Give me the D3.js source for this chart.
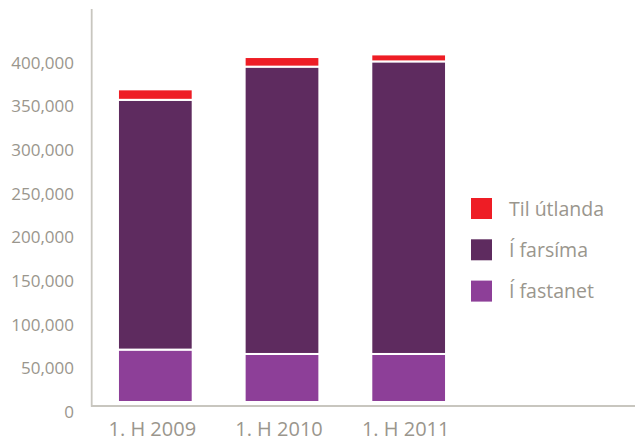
<!DOCTYPE html>
<html>
<head>
<meta charset="utf-8">
<script src="https://cdn.jsdelivr.net/npm/d3@7"></script>
<style>
  html, body { margin: 0; padding: 0; background: #fff; }
  svg { display: block; }
  text { font-family: "Open Sans", "Noto Sans", sans-serif; fill: #9a968d; }
</style>
</head>
<body>
<svg id="chart" width="635" height="443"></svg>
<script>
// Periods on the x axis
const periods = ["1. H 2009", "1. H 2010", "1. H 2011"];

// Minutes per series, bottom to top of each stack
const fastanet = [60000, 55000, 55000];     // Í fastanet
const farsima  = [286000, 329000, 335000];  // Í farsíma
const utlanda  = [12000, 11000, 8000];      // Til útlanda

const seriesNames = ["Í fastanet", "Í farsíma", "Til útlanda"];
const seriesColors = ["#8d3f98", "#5e2b5f", "#ee1d25"];

// Value axis ticks
const yTicks = [0, 50000, 100000, 150000, 200000, 250000, 300000, 350000, 400000];

const rows = periods.map((p, i) => ({
  period: p,
  "Í fastanet": fastanet[i],
  "Í farsíma": farsima[i],
  "Til útlanda": utlanda[i]
}));

const svg = d3.select("#chart");

const x = d3.scaleBand()
  .domain(periods)
  .range([92, 472])
  .paddingInner(0.41)
  .paddingOuter(0.205);

const y = d3.scaleLinear()
  .domain([0, 450000])
  .range([402, 9]);

const color = d3.scaleOrdinal().domain(seriesNames).range(seriesColors);

const stacked = d3.stack().keys(seriesNames)(rows);

// Stacked bars, separated by thin white strokes
svg.append("g")
  .selectAll("g")
  .data(stacked)
  .join("g")
    .attr("fill", d => color(d.key))
  .selectAll("rect")
  .data(d => d)
  .join("rect")
    .attr("x", d => x(d.data.period))
    .attr("width", x.bandwidth())
    .attr("y", d => y(d[1]))
    .attr("height", d => y(d[0]) - y(d[1]))
    .attr("stroke", "#fff")
    .attr("stroke-width", 2);

// Axis lines
const axisColor = "#c8c6bf";
svg.append("line")
  .attr("x1", 91.7).attr("x2", 91.7)
  .attr("y1", y.range()[1]).attr("y2", y(0) + 4.7)
  .attr("stroke", axisColor).attr("stroke-width", 1.8);
svg.append("line")
  .attr("x1", 91).attr("x2", 635)
  .attr("y1", y(0) + 4).attr("y2", y(0) + 4)
  .attr("stroke", axisColor).attr("stroke-width", 2);

// Value labels
svg.append("g")
  .selectAll("text")
  .data(yTicks)
  .join("text")
    .attr("x", 74)
    .attr("y", d => y(d) + 10)
    .attr("dy", "0.36em")
    .attr("text-anchor", "end")
    .attr("font-size", 17)
    .text(d => d3.format(",")(d));

// Period labels
svg.append("g")
  .selectAll("text")
  .data(periods)
  .join("text")
    .attr("x", d => x(d) + x.bandwidth() / 2 - 3)
    .attr("y", 436)
    .attr("text-anchor", "middle")
    .attr("font-size", 20)
    .text(d => d);

// Legend, top entry is the top of the stack
const legendItems = seriesNames.slice().reverse();
const legend = svg.append("g")
  .selectAll("g")
  .data(legendItems)
  .join("g")
    .attr("transform", (d, i) => `translate(471, ${198 + i * 41.3})`);
legend.append("rect")
  .attr("width", 21).attr("height", 21)
  .attr("fill", d => color(d));
legend.append("text")
  .attr("x", 38)
  .attr("y", 10.5)
  .attr("dy", "0.36em")
  .attr("font-size", 19.5)
  .text(d => d);
</script>
</body>
</html>
